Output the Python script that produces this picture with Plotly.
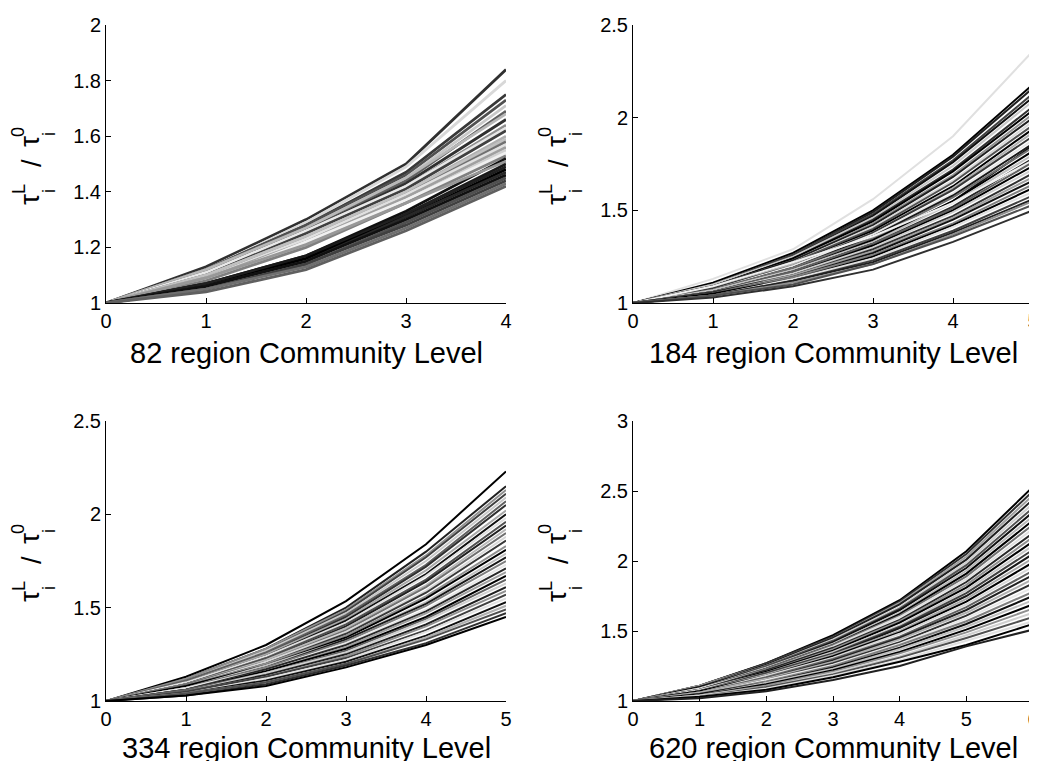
import plotly.graph_objects as go

# ---------------- data ----------------
levels_82 = [0, 1, 2, 3, 4]
ratio_82 = [
    [1, 1.13, 1.30, 1.50, 1.84],
    [1, 1.12, 1.29, 1.49, 1.80],
    [1, 1.12, 1.28, 1.47, 1.75],
    [1, 1.12, 1.28, 1.46, 1.73],
    [1, 1.11, 1.27, 1.45, 1.71],
    [1, 1.11, 1.27, 1.44, 1.69],
    [1, 1.12, 1.27, 1.45, 1.68],
    [1, 1.11, 1.26, 1.43, 1.66],
    [1, 1.10, 1.25, 1.42, 1.64],
    [1, 1.11, 1.26, 1.42, 1.63],
    [1, 1.10, 1.25, 1.41, 1.62],
    [1, 1.10, 1.24, 1.40, 1.60],
    [1, 1.10, 1.24, 1.40, 1.59],
    [1, 1.09, 1.23, 1.39, 1.58],
    [1, 1.09, 1.23, 1.39, 1.57],
    [1, 1.09, 1.22, 1.38, 1.56],
    [1, 1.08, 1.21, 1.37, 1.55],
    [1, 1.08, 1.22, 1.37, 1.54],
    [1, 1.08, 1.20, 1.36, 1.53],
    [1, 1.07, 1.17, 1.33, 1.52],
    [1, 1.09, 1.21, 1.36, 1.51],
    [1, 1.07, 1.17, 1.32, 1.50],
    [1, 1.07, 1.16, 1.32, 1.49],
    [1, 1.06, 1.16, 1.31, 1.48],
    [1, 1.06, 1.15, 1.31, 1.47],
    [1, 1.06, 1.15, 1.30, 1.46],
    [1, 1.05, 1.14, 1.29, 1.45],
    [1, 1.05, 1.14, 1.28, 1.44],
    [1, 1.05, 1.13, 1.27, 1.43],
    [1, 1.04, 1.12, 1.26, 1.42],
]
gray_82 = [48, 216, 56, 80, 200, 96, 184, 48, 144, 232, 64, 176, 192, 112, 224,
           160, 208, 240, 128, 16, 152, 24, 32, 0, 40, 16, 80, 64, 112, 96]

levels_184 = [0, 1, 2, 3, 4, 5]
ratio_184 = [
    [1, 1.13, 1.29, 1.56, 1.90, 2.36],
    [1, 1.11, 1.27, 1.50, 1.80, 2.18],
    [1, 1.10, 1.26, 1.49, 1.79, 2.16],
    [1, 1.10, 1.26, 1.48, 1.77, 2.13],
    [1, 1.10, 1.25, 1.47, 1.76, 2.11],
    [1, 1.10, 1.25, 1.46, 1.74, 2.09],
    [1, 1.09, 1.24, 1.45, 1.72, 2.06],
    [1, 1.09, 1.24, 1.44, 1.71, 2.04],
    [1, 1.09, 1.23, 1.43, 1.69, 2.02],
    [1, 1.09, 1.23, 1.42, 1.68, 2.00],
    [1, 1.08, 1.22, 1.41, 1.66, 1.98],
    [1, 1.08, 1.22, 1.40, 1.65, 1.96],
    [1, 1.08, 1.21, 1.39, 1.63, 1.94],
    [1, 1.08, 1.21, 1.38, 1.62, 1.92],
    [1, 1.08, 1.20, 1.38, 1.61, 1.90],
    [1, 1.07, 1.20, 1.37, 1.59, 1.88],
    [1, 1.07, 1.19, 1.36, 1.58, 1.86],
    [1, 1.05, 1.16, 1.33, 1.55, 1.85],
    [1, 1.07, 1.19, 1.35, 1.57, 1.84],
    [1, 1.07, 1.18, 1.34, 1.55, 1.82],
    [1, 1.07, 1.18, 1.33, 1.54, 1.80],
    [1, 1.06, 1.17, 1.32, 1.52, 1.78],
    [1, 1.09, 1.22, 1.36, 1.54, 1.77],
    [1, 1.06, 1.17, 1.32, 1.51, 1.76],
    [1, 1.06, 1.16, 1.31, 1.50, 1.74],
    [1, 1.06, 1.16, 1.30, 1.49, 1.72],
    [1, 1.06, 1.15, 1.29, 1.47, 1.70],
    [1, 1.05, 1.15, 1.28, 1.46, 1.68],
    [1, 1.05, 1.14, 1.27, 1.45, 1.66],
    [1, 1.05, 1.14, 1.26, 1.43, 1.64],
    [1, 1.05, 1.13, 1.25, 1.42, 1.62],
    [1, 1.04, 1.13, 1.24, 1.41, 1.60],
    [1, 1.04, 1.12, 1.23, 1.39, 1.58],
    [1, 1.04, 1.12, 1.22, 1.38, 1.56],
    [1, 1.04, 1.11, 1.21, 1.37, 1.55],
    [1, 1.04, 1.10, 1.21, 1.36, 1.53],
    [1, 1.03, 1.09, 1.18, 1.33, 1.50],
]
gray_184 = [224, 0, 32, 64, 16, 200, 48, 0, 144, 32, 216, 80, 0, 176, 56, 232, 24,
            16, 112, 0, 192, 40, 240, 96, 0, 208, 48, 160, 16, 128, 0, 224, 64, 32,
            144, 80, 48]

levels_334 = [0, 1, 2, 3, 4, 5]
ratio_334 = [
    [1, 1.13, 1.30, 1.535, 1.84, 2.23],
    [1, 1.12, 1.28, 1.50, 1.80, 2.15],
    [1, 1.12, 1.28, 1.49, 1.78, 2.13],
    [1, 1.11, 1.27, 1.48, 1.77, 2.11],
    [1, 1.11, 1.27, 1.47, 1.75, 2.09],
    [1, 1.11, 1.26, 1.46, 1.73, 2.07],
    [1, 1.10, 1.25, 1.45, 1.72, 2.05],
    [1, 1.10, 1.25, 1.44, 1.70, 2.02],
    [1, 1.10, 1.24, 1.43, 1.68, 2.00],
    [1, 1.10, 1.24, 1.42, 1.67, 1.98],
    [1, 1.09, 1.23, 1.41, 1.65, 1.96],
    [1, 1.09, 1.22, 1.40, 1.64, 1.94],
    [1, 1.09, 1.22, 1.39, 1.62, 1.92],
    [1, 1.09, 1.21, 1.38, 1.61, 1.90],
    [1, 1.08, 1.21, 1.37, 1.59, 1.88],
    [1, 1.08, 1.20, 1.36, 1.58, 1.86],
    [1, 1.08, 1.20, 1.35, 1.56, 1.83],
    [1, 1.08, 1.19, 1.34, 1.55, 1.81],
    [1, 1.07, 1.19, 1.33, 1.53, 1.79],
    [1, 1.07, 1.18, 1.33, 1.52, 1.77],
    [1, 1.07, 1.18, 1.32, 1.51, 1.75],
    [1, 1.07, 1.17, 1.31, 1.49, 1.73],
    [1, 1.06, 1.17, 1.30, 1.48, 1.71],
    [1, 1.06, 1.16, 1.29, 1.47, 1.69],
    [1, 1.06, 1.16, 1.28, 1.45, 1.67],
    [1, 1.06, 1.15, 1.27, 1.44, 1.65],
    [1, 1.05, 1.15, 1.26, 1.43, 1.63],
    [1, 1.05, 1.14, 1.25, 1.41, 1.61],
    [1, 1.05, 1.13, 1.24, 1.40, 1.59],
    [1, 1.05, 1.13, 1.23, 1.38, 1.57],
    [1, 1.04, 1.12, 1.22, 1.37, 1.55],
    [1, 1.04, 1.11, 1.21, 1.35, 1.53],
    [1, 1.04, 1.10, 1.20, 1.34, 1.51],
    [1, 1.04, 1.10, 1.20, 1.33, 1.49],
    [1, 1.03, 1.09, 1.19, 1.31, 1.47],
    [1, 1.03, 1.08, 1.18, 1.30, 1.45],
]
gray_334 = [0, 32, 144, 64, 200, 96, 48, 168, 16, 224, 80, 32, 184, 112, 216, 56,
            144, 0, 192, 24, 128, 232, 40, 160, 0, 96, 208, 32, 144, 64, 224, 16,
            176, 80, 48, 0]

levels_620 = [0, 1, 2, 3, 4, 5, 6]
ratio_620 = [
    [1, 1.11, 1.27, 1.47, 1.72, 2.07, 2.53],
    [1, 1.11, 1.27, 1.46, 1.71, 2.05, 2.50],
    [1, 1.11, 1.26, 1.45, 1.70, 2.03, 2.47],
    [1, 1.10, 1.26, 1.45, 1.69, 2.01, 2.44],
    [1, 1.10, 1.25, 1.44, 1.67, 1.99, 2.41],
    [1, 1.10, 1.25, 1.43, 1.66, 1.97, 2.38],
    [1, 1.10, 1.24, 1.42, 1.65, 1.95, 2.35],
    [1, 1.09, 1.24, 1.41, 1.63, 1.93, 2.32],
    [1, 1.09, 1.23, 1.40, 1.62, 1.91, 2.29],
    [1, 1.09, 1.23, 1.40, 1.61, 1.89, 2.26],
    [1, 1.09, 1.22, 1.39, 1.60, 1.87, 2.23],
    [1, 1.08, 1.22, 1.38, 1.58, 1.85, 2.20],
    [1, 1.08, 1.21, 1.37, 1.57, 1.83, 2.17],
    [1, 1.08, 1.21, 1.36, 1.56, 1.81, 2.14],
    [1, 1.08, 1.20, 1.35, 1.54, 1.79, 2.11],
    [1, 1.07, 1.20, 1.34, 1.53, 1.77, 2.08],
    [1, 1.07, 1.19, 1.33, 1.52, 1.75, 2.05],
    [1, 1.07, 1.19, 1.33, 1.50, 1.73, 2.02],
    [1, 1.07, 1.18, 1.32, 1.49, 1.71, 1.99],
    [1, 1.06, 1.18, 1.31, 1.48, 1.69, 1.96],
    [1, 1.06, 1.17, 1.30, 1.46, 1.67, 1.93],
    [1, 1.06, 1.16, 1.29, 1.45, 1.65, 1.90],
    [1, 1.06, 1.16, 1.28, 1.44, 1.63, 1.87],
    [1, 1.05, 1.15, 1.27, 1.42, 1.61, 1.84],
    [1, 1.05, 1.15, 1.26, 1.41, 1.59, 1.81],
    [1, 1.05, 1.14, 1.25, 1.40, 1.57, 1.78],
    [1, 1.05, 1.13, 1.24, 1.38, 1.55, 1.75],
    [1, 1.04, 1.13, 1.23, 1.37, 1.53, 1.72],
    [1, 1.04, 1.12, 1.22, 1.35, 1.51, 1.69],
    [1, 1.04, 1.11, 1.21, 1.34, 1.49, 1.66],
    [1, 1.04, 1.10, 1.20, 1.32, 1.47, 1.63],
    [1, 1.03, 1.10, 1.19, 1.31, 1.45, 1.60],
    [1, 1.03, 1.09, 1.18, 1.29, 1.43, 1.57],
    [1, 1.03, 1.08, 1.17, 1.28, 1.40, 1.55],
    [1, 1.02, 1.07, 1.15, 1.25, 1.39, 1.51],
]
gray_620 = [0, 48, 160, 32, 208, 80, 16, 184, 0, 112, 224, 40, 144, 0, 200, 64,
            24, 168, 0, 216, 96, 32, 176, 48, 232, 128, 16, 192, 0, 144, 208, 80,
            224, 0, 32]

titles = ["82 region Community Level", "184 region Community Level",
          "334 region Community Level", "620 region Community Level"]
y_ranges = [[1, 2], [1, 2.5], [1, 2.5], [1, 3]]
y_ticks = [[1, 1.2, 1.4, 1.6, 1.8, 2], [1, 1.5, 2, 2.5], [1, 1.5, 2, 2.5], [1, 1.5, 2, 2.5, 3]]
y_ticktext = [["1", "1.2", "1.4", "1.6", "1.8", "2"], ["1", "1.5", "2", "2.5"],
              ["1", "1.5", "2", "2.5"], ["1", "1.5", "2", "2.5", "3"]]

# ---------------- layout geometry (page pixels) ----------------
PAGE_W, PAGE_H = 1037, 761
OFF = 8  # default body margin of the html page
W, H = PAGE_W - OFF, PAGE_H - OFF
FONT = "Liberation Sans, Arial, sans-serif"
# plot boxes on page: (left, right, top, bottom)
boxes = [(106, 506, 25, 303), (633, 1033, 25, 303),
         (106, 506, 421, 701), (633, 1033, 421, 701)]
title_gap = [50, 50, 47, 47]

panels = [
    (levels_82, ratio_82, gray_82, 2.8),
    (levels_184, ratio_184, gray_184, 2.0),
    (levels_334, ratio_334, gray_334, 2.0),
    (levels_620, ratio_620, gray_620, 2.0),
]


def px(x):
    return (x - OFF) / W


def py(y):
    return 1 - (y - OFF) / H


fig = go.Figure()
layout = dict(
    template="none",
    width=W, height=H, autosize=False,
    margin=dict(l=0, r=0, t=0, b=0, pad=0),
    paper_bgcolor="white", plot_bgcolor="white",
    showlegend=False,
    font=dict(family=FONT, color="black"),
)
annotations = []

for k, (lv, data, grays, lw) in enumerate(panels):
    suffix = "" if k == 0 else str(k + 1)
    for row, g in zip(data, grays):
        fig.add_trace(go.Scatter(
            x=lv, y=row, mode="lines",
            line=dict(color=f"rgb({g},{g},{g})", width=lw),
            xaxis="x" + suffix, yaxis="y" + suffix, hoverinfo="skip",
        ))
    l, r, t, b = boxes[k]
    axis_common = dict(
        showline=True, linecolor="black", linewidth=1,
        ticks="inside", ticklen=5, tickcolor="black", tickwidth=1,
        showgrid=False, zeroline=False, mirror=False, automargin=False,
        ticklabeloverflow="allow",
        tickfont=dict(family=FONT, size=20, color="black"),
    )
    layout["xaxis" + suffix] = dict(
        axis_common, domain=[px(l), px(r)], range=[lv[0], lv[-1]],
        tickvals=lv, ticktext=[str(v) for v in lv],
        anchor="y" + suffix,
    )
    layout["yaxis" + suffix] = dict(
        axis_common, domain=[py(b), py(t)], range=y_ranges[k],
        tickvals=y_ticks[k], ticktext=y_ticktext[k],
        anchor="x" + suffix,
    )
    # x axis title
    annotations.append(dict(
        text=titles[k], xref="paper", yref="paper",
        x=px((l + r) / 2), y=py(b + title_gap[k]), xanchor="center", yanchor="middle",
        showarrow=False, font=dict(family=FONT, size=29, color="black"),
    ))
    # y axis label tau_i^L / tau_i^0, built from stacked pieces
    dx = l - 106
    cy = (t + b) / 2 - 164
    pieces = [
        ("τ", 29, 200, 28),
        ("L", 19, 189, 18),
        ("i", 49, 191, 18),
        ("/", 32, 163, 27),
        ("τ", 29, 142, 28),
        ("0", 18, 132, 18),
        ("i", 49, 134, 18),
    ]
    for txt, xx, yy, fs in pieces:
        annotations.append(dict(
            text=txt, xref="paper", yref="paper",
            x=px(xx + dx), y=py(yy + cy), xanchor="center", yanchor="middle",
            textangle=-90, showarrow=False,
            font=dict(family=FONT, size=fs, color="black"),
        ))

layout["annotations"] = annotations
fig.update_layout(**layout)
fig.write_html("out.html")
